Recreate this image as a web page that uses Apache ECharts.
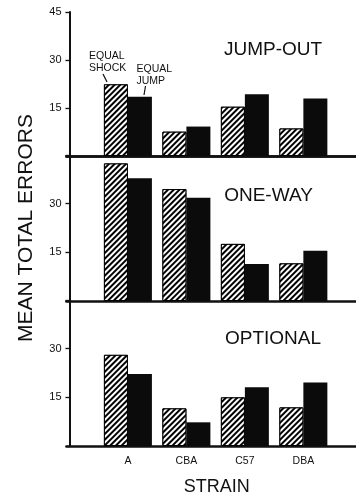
<!DOCTYPE html>
<html>
<head>
<meta charset="utf-8">
<script src="https://cdn.jsdelivr.net/npm/echarts@6/dist/echarts.min.js"></script>
<style>
  html, body { margin: 0; padding: 0; background: #fff; }
  #chart { width: 356px; height: 496px; }
</style>
</head>
<body>
<div id="chart"></div>
<script>
// Mouse strains on the x axis
const strains = ['A', 'CBA', 'C57', 'DBA'];
const strainPos = [1, 2, 3, 4];

// Mean total errors, one pair of arrays per avoidance task
const jumpOutShock = [22.4, 7.6, 15.4, 8.6];
const jumpOutJump  = [18.5, 9.2, 19.3, 18.0];
const oneWayShock  = [42.4, 34.5, 17.6, 11.6];
const oneWayJump   = [37.8, 31.8, 11.4, 15.5];
const optionalShock = [28.1, 11.6, 15.0, 11.9];
const optionalJump  = [22.2, 7.3, 18.1, 19.6];

const panelNames = ['JUMP-OUT', 'ONE-WAY', 'OPTIONAL'];

const panels = [
  { shock: jumpOutShock, jump: jumpOutJump },
  { shock: oneWayShock, jump: oneWayJump },
  { shock: optionalShock, jump: optionalJump }
];

const INK = '#111';
const FONT = '"Liberation Sans", Arial, sans-serif';

const grids = [
  { left: 66.5, right: 0, top: 12, height: 144 },
  { left: 66.5, right: 0, top: 155, height: 146 },
  { left: 66.5, right: 0, top: 300, height: 146 }
];

const pair = vals => vals.map((v, i) => [strainPos[i], v]);

const hatch = {
  symbol: 'rect',
  symbolSize: 1,
  dashArrayX: [1, 0],
  dashArrayY: [1.3, 1.2],
  rotation: -Math.PI / 4,
  color: '#000',
  backgroundColor: '#fff'
};

const xAxes = grids.map((g, k) => ({
  type: 'value',
  gridIndex: k,
  min: -0.05,
  max: 4.9,
  axisLine: { show: true, onZero: false, lineStyle: { color: INK, width: 2.5 } },
  axisTick: { show: false },
  splitLine: { show: false },
  axisLabel: k === 2 ? {
    show: true,
    customValues: strainPos,
    formatter: v => strains[strainPos.indexOf(v)] || '',
    color: INK,
    fontFamily: FONT,
    fontSize: 10.5,
    margin: 10
  } : { show: false }
}));
// frame line along the top of the first panel
xAxes.push({
  type: 'value',
  gridIndex: 0,
  position: 'top',
  min: -0.05,
  max: 4.9,
  axisLine: { show: true, lineStyle: { color: INK, width: 2.5 } },
  axisTick: { show: false },
  axisLabel: { show: false },
  splitLine: { show: false }
});

const yAxes = grids.map((g, k) => ({
  type: 'value',
  gridIndex: k,
  min: 0,
  max: 45,
  interval: 15,
  name: k === 1 ? 'MEAN TOTAL ERRORS' : '',
  nameLocation: 'middle',
  nameGap: 30,
  nameTextStyle: { color: INK, fontFamily: FONT, fontSize: 21 },
  axisLine: { show: true, lineStyle: { color: INK, width: 2 } },
  axisTick: { show: true, length: 4, lineStyle: { color: INK, width: 1.3 } },
  splitLine: { show: false },
  axisLabel: {
    color: INK,
    fontFamily: FONT,
    fontSize: 11,
    margin: 5,
    formatter: v => (v === 0 || (k > 0 && v === 45)) ? '' : String(v)
  }
}));

const series = [];
panels.forEach((p, k) => {
  series.push({
    name: 'EQUAL SHOCK',
    type: 'bar',
    xAxisIndex: k,
    yAxisIndex: k,
    barWidth: 24,
    barGap: '0%',
    data: pair(p.shock),
    itemStyle: { color: '#fff', borderColor: '#000', borderWidth: 1, decal: hatch },
    silent: true
  });
  series.push({
    name: 'EQUAL JUMP',
    type: 'bar',
    xAxisIndex: k,
    yAxisIndex: k,
    barWidth: 24,
    barGap: '0%',
    data: pair(p.jump),
    itemStyle: { color: '#0b0b0b' },
    silent: true
  });
});

const titleStyle = { fill: INK, font: '19px ' + FONT, textAlign: 'center', textVerticalAlign: 'middle' };
const smallStyle = { fill: INK, font: '10.5px ' + FONT, lineHeight: 12, textAlign: 'left', textVerticalAlign: 'top' };

const graphic = [
  { type: 'text', x: 273, y: 50, style: Object.assign({ text: panelNames[0] }, titleStyle) },
  { type: 'text', x: 268.5, y: 195.5, style: Object.assign({ text: panelNames[1] }, titleStyle) },
  { type: 'text', x: 273, y: 339, style: Object.assign({ text: panelNames[2] }, titleStyle) },
  { type: 'text', x: 216.7, y: 487, style: Object.assign({ text: 'STRAIN' }, titleStyle, { font: '18px ' + FONT }) },
  { type: 'text', x: 89, y: 50.5, style: Object.assign({ text: 'EQUAL\nSHOCK' }, smallStyle) },
  { type: 'text', x: 136.5, y: 63, style: Object.assign({ text: 'EQUAL\nJUMP' }, smallStyle) },
  { type: 'line', shape: { x1: 103, y1: 74, x2: 107, y2: 82 }, style: { stroke: INK, lineWidth: 1.2 } },
  { type: 'line', shape: { x1: 145.5, y1: 86, x2: 144, y2: 95 }, style: { stroke: INK, lineWidth: 1.2 } }
];

const chart = echarts.init(document.getElementById('chart'), null, { renderer: 'canvas' });
chart.setOption({
  animation: false,
  backgroundColor: '#fff',
  grid: grids,
  xAxis: xAxes,
  yAxis: yAxes,
  series: series,
  graphic: graphic
});
</script>
</body>
</html>
